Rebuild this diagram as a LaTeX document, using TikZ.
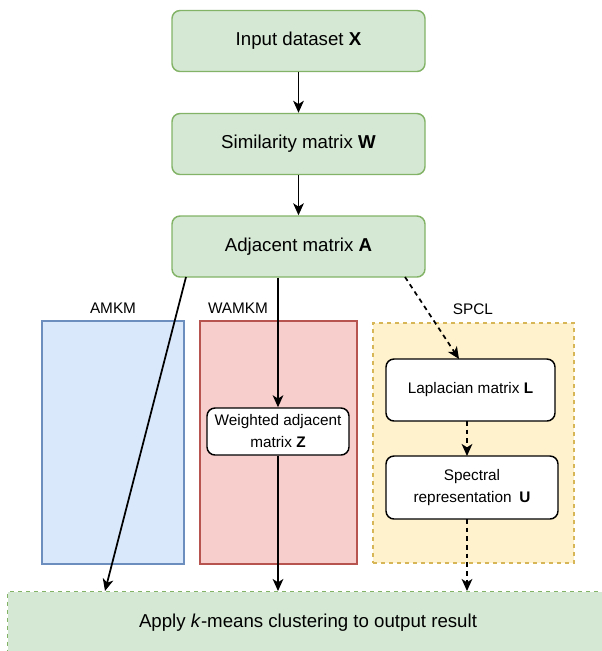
\documentclass[tikz,border=0pt]{standalone}
\usepackage{fontspec}
\setmainfont{Liberation Sans}
\usetikzlibrary{arrows.meta}
\definecolor{gfill}{HTML}{D5E8D4}
\definecolor{gline}{HTML}{82B366}
\definecolor{bfill}{HTML}{DAE8FC}
\definecolor{bline}{HTML}{6C8EBF}
\definecolor{rfill}{HTML}{F8CECC}
\definecolor{rline}{HTML}{B85450}
\definecolor{yfill}{HTML}{FFF2CC}
\definecolor{yline}{HTML}{D6B656}
\tikzset{
  topbox/.style={draw=gline, fill=gfill, line width=1.1pt, rounded corners=6pt,
    minimum width=253*0.75pt, minimum height=61*0.75pt, inner sep=0pt,
    font=\fontsize{14}{16}\selectfont},
  whitebox/.style={draw=black, fill=white, line width=1.1pt, rounded corners=6pt,
    inner sep=0pt, align=center, font=\fontsize{11.5}{16.5}\selectfont},
  grp/.style={line width=1.1pt, inner sep=0pt},
  grplabel/.style={font=\fontsize{11.5}{14}\selectfont, inner sep=0pt},
  conn/.style={line width=1.3pt, -{Stealth[length=9pt,width=8pt,inset=2.5pt]}},
  dconn/.style={conn, dash pattern=on 3.5pt off 3pt}
}
\begin{document}
\begin{tikzpicture}[x=0.75pt,y=-0.75pt]
\useasboundingbox (0,0) rectangle (601,651);
% final box (extends beyond the page edges)
\node[draw=gline, fill=gfill, line width=1.1pt, dash pattern=on 3pt off 3pt,
  minimum width=640*0.75pt, minimum height=110*0.75pt, inner sep=0pt, anchor=north west]
  (final) at (7,591) {};
\node[font=\fontsize{14}{16}\selectfont] (ftext) at (308,623) {Apply \textit{k}-means clustering to output result};
% groups
\node[grp, draw=bline, fill=bfill, minimum width=142*0.75pt, minimum height=243*0.75pt] (amkm) at (113,442.5) {};
\node[grp, draw=rline, fill=rfill, minimum width=157*0.75pt, minimum height=243*0.75pt] (wamkm) at (278.5,442.5) {};
\node[grp, draw=yline, fill=yfill, dash pattern=on 3pt off 3pt, minimum width=201*0.75pt, minimum height=240*0.75pt] (spcl) at (473.5,443) {};
\node[grplabel] (lamkm) at (113,308) {AMKM};
\node[grplabel] (lwamkm) at (238,308) {WAMKM};
\node[grplabel] (lspcl) at (473,309) {SPCL};
% top boxes
\node[topbox] (in) at (298.5,41) {Input dataset \textbf{X}};
\node[topbox] (sim) at (298.5,144) {Similarity matrix \textbf{W}};
\node[topbox] (adj) at (298.5,246.5) {Adjacent matrix \textbf{A}};
% inner boxes
\node[whitebox, minimum width=142*0.75pt, minimum height=47*0.75pt] (wz) at (278,431.5) {Weighted adjacent\\matrix \textbf{Z}};
\node[whitebox, minimum width=169*0.75pt, minimum height=62*0.75pt] (lap) at (470.5,390) {Laplacian matrix \textbf{L}};
\node[whitebox, minimum width=172*0.75pt, minimum height=63*0.75pt] (spec) at (472,487.5) {Spectral\\representation\enspace\textbf{U}};
% connector end points
\coordinate (a1) at (186,277);
\coordinate (f1) at (105,591);
\coordinate (a2) at (405,277);
\coordinate (l1) at (459,359);
\coordinate (l2) at (467,421);
\coordinate (s1) at (467,456);
\coordinate (s2) at (467,519);
\coordinate (f3) at (467,591);
% connectors
\draw[conn] (in.south) -- (sim.north);
\draw[conn] (sim.south) -- (adj.north);
\draw[conn] (adj.south -| wz.north) -- (wz.north);
\draw[conn] (wz.south) -- (wz.south |- final.north);
\draw[conn] (a1) -- (f1);
\draw[dconn] (a2) -- (l1);
\draw[dconn] (l2) -- (s1);
\draw[dconn] (s2) -- (f3);
\end{tikzpicture}
\end{document}
